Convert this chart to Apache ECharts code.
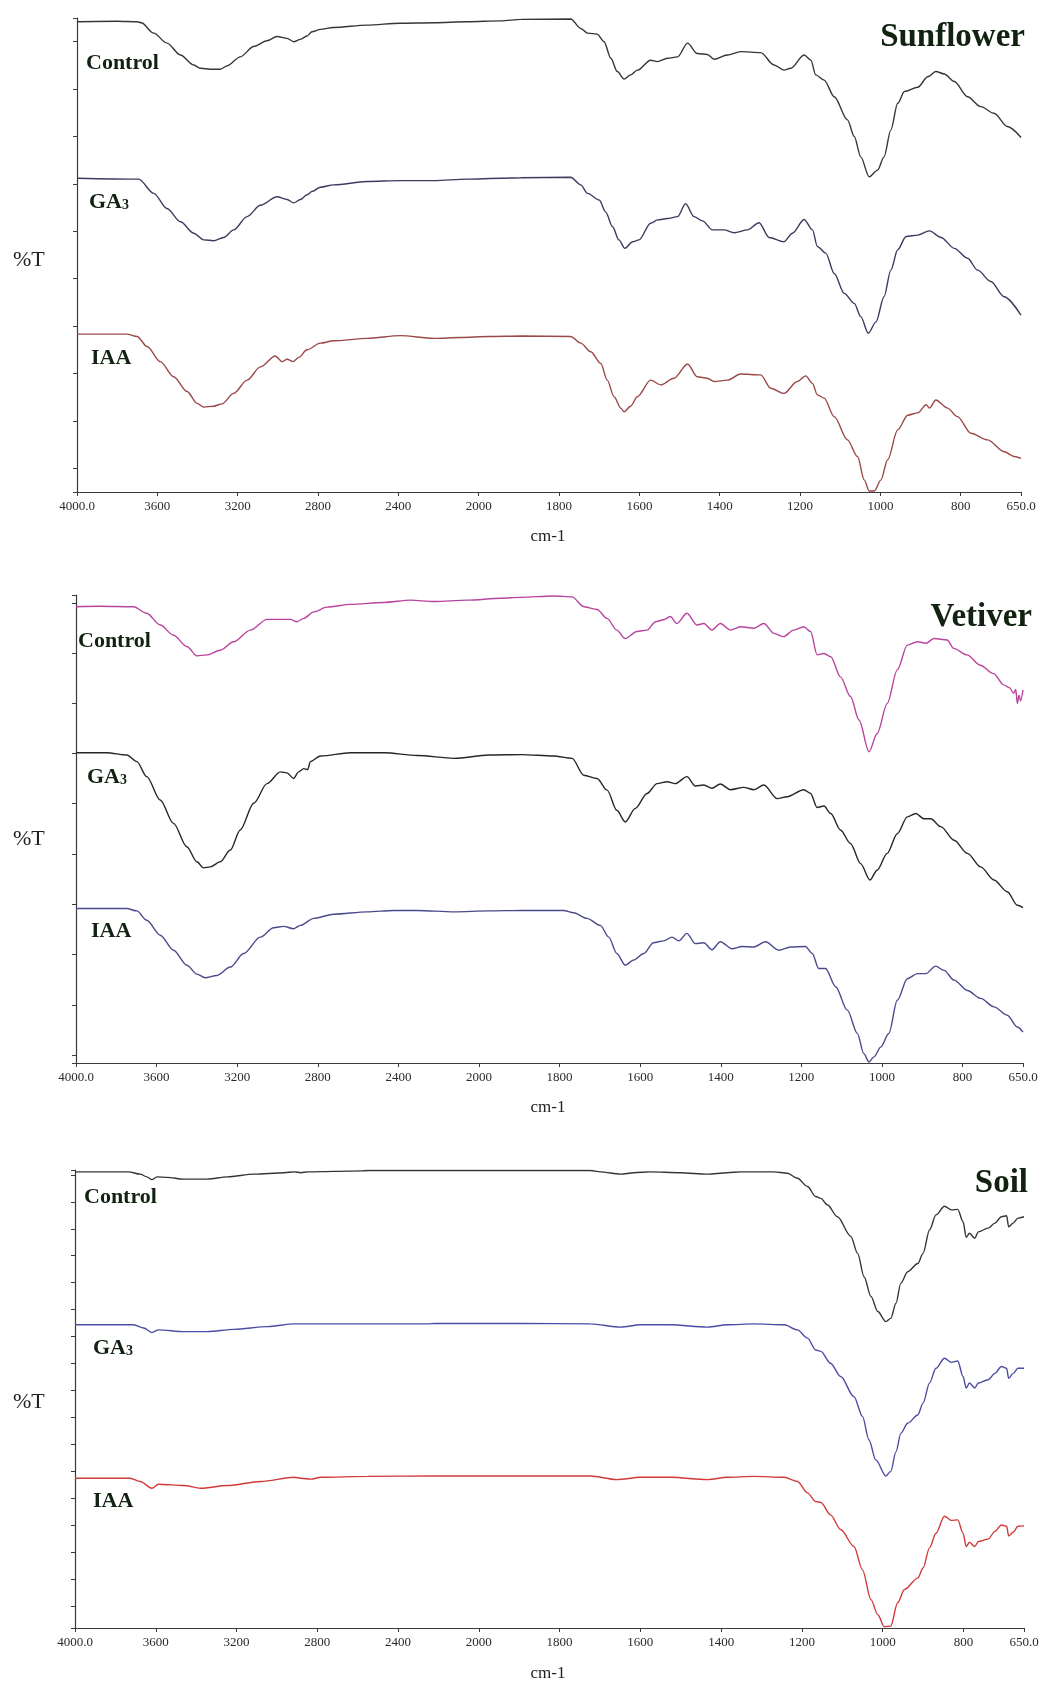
<!DOCTYPE html>
<html>
<head>
<meta charset="utf-8">
<script src="https://cdn.jsdelivr.net/npm/echarts@6/dist/echarts.min.js"></script>
<style>
html,body{margin:0;padding:0;background:#fff;}
#chart{width:1042px;height:1691px;}
</style>
</head>
<body>
<div id="chart"></div>
<script>
// ---------- DATA (wavenumber cm-1, %T in arbitrary axis units 0-100) ----------
const xTickWn = [4000,3600,3200,2800,2400,2000,1800,1600,1400,1200,1000,800,650];
const xTickLabels = ['4000.0','3600','3200','2800','2400','2000','1800','1600','1400','1200','1000','800','650.0'];

const sunflowerControl = [[4000,99.2],[3800,99.3],[3700,99.2],[3680,99.0],[3618,96.8],[3552,94.7],[3485,92.2],[3419,90.1],[3386,89.4],[3336,89.2],[3286,89.2],[3253,89.9],[3187,91.8],[3120,94.0],[3054,95.2],[3004,96.1],[2954,95.7],[2921,95.0],[2888,95.5],[2855,96.2],[2830,97.1],[2788,97.6],[2722,98.0],[2556,98.5],[2390,98.9],[2224,99.0],[2058,99.2],[1945,99.4],[1895,99.7],[1771,99.8],[1746,97.8],[1729,96.8],[1705,96.6],[1688,95.0],[1671,91.5],[1655,88.7],[1638,87.1],[1622,88.0],[1605,89.0],[1572,91.1],[1555,90.8],[1530,91.5],[1505,91.8],[1480,94.7],[1456,92.5],[1431,92.3],[1414,91.3],[1381,92.2],[1348,92.9],[1298,92.7],[1265,90.1],[1240,89.0],[1223,89.4],[1190,92.2],[1173,91.1],[1161,88.0],[1140,86.9],[1115,83.4],[1082,78.5],[1065,75.0],[1049,70.7],[1028,66.5],[1007,67.9],[991,70.7],[974,76.4],[957,82.0],[940,84.5],[907,85.4],[882,87.6],[862,88.7],[841,88.2],[816,86.6],[783,83.4],[750,81.3],[717,79.9],[684,77.1],[650,74.8]];
const sunflowerGA3 = [[4000,66.2],[3693,66.0],[3618,63.0],[3552,59.8],[3485,57.0],[3419,54.6],[3369,53.2],[3320,53.0],[3270,53.7],[3220,55.3],[3153,58.1],[3087,60.5],[3004,62.3],[2954,61.7],[2921,61.0],[2888,61.7],[2855,62.7],[2830,63.4],[2788,64.3],[2722,64.8],[2556,65.5],[2390,65.7],[2224,65.7],[2058,66.0],[1945,66.2],[1895,66.3],[1771,66.4],[1746,64.8],[1729,63.0],[1700,61.6],[1684,59.1],[1667,56.0],[1651,53.2],[1636,51.4],[1617,52.8],[1601,53.2],[1572,56.7],[1555,57.4],[1530,57.7],[1505,58.1],[1485,60.8],[1464,58.1],[1443,57.2],[1418,55.3],[1389,55.3],[1364,54.7],[1331,55.3],[1302,56.8],[1277,53.7],[1240,52.8],[1219,54.6],[1190,57.5],[1169,55.3],[1157,51.8],[1136,50.4],[1115,46.1],[1090,41.9],[1065,39.8],[1049,37.0],[1030,33.5],[1011,35.9],[991,41.2],[974,46.8],[957,51.1],[936,53.9],[907,54.2],[878,55.1],[849,53.7],[816,51.4],[783,49.3],[758,46.8],[725,44.4],[692,41.2],[650,37.3]];
const sunflowerIAA = [[4000,33.3],[3751,33.3],[3701,32.8],[3651,30.7],[3585,27.5],[3519,24.3],[3452,21.2],[3402,18.7],[3369,17.9],[3320,18.1],[3278,18.6],[3220,20.8],[3153,23.6],[3087,26.4],[3013,28.7],[2979,27.5],[2954,28.0],[2924,27.5],[2896,28.4],[2855,30.0],[2788,31.4],[2722,31.9],[2556,32.4],[2390,33.0],[2224,32.4],[2091,32.6],[1975,32.8],[1895,32.9],[1771,32.8],[1746,31.4],[1721,29.6],[1696,27.1],[1680,23.6],[1663,20.1],[1646,17.7],[1638,16.9],[1622,18.1],[1605,20.1],[1572,23.6],[1547,22.6],[1514,24.0],[1480,27.0],[1456,24.3],[1431,24.0],[1414,23.3],[1381,23.6],[1348,24.9],[1298,24.7],[1273,21.9],[1240,20.8],[1207,23.3],[1186,24.5],[1169,22.9],[1157,20.5],[1140,19.8],[1115,15.9],[1082,11.0],[1057,7.5],[1040,2.5],[1028,0.2],[1015,0.2],[999,2.5],[982,6.8],[957,13.1],[932,16.2],[907,16.7],[886,18.4],[878,17.7],[862,19.4],[833,17.7],[808,15.9],[775,12.4],[733,11.0],[692,8.5],[667,7.5],[650,7.1]];

const vetiverControl = [[4000,97.5],[3881,97.6],[3715,97.5],[3649,96.1],[3582,93.6],[3516,91.4],[3450,89.0],[3400,87.0],[3350,87.2],[3284,88.2],[3218,90.0],[3135,92.5],[3052,94.8],[2986,94.8],[2936,94.8],[2903,94.3],[2870,95.0],[2820,96.4],[2754,97.4],[2638,98.0],[2472,98.4],[2340,98.9],[2224,98.6],[2058,98.9],[1945,99.3],[1898,99.5],[1815,99.8],[1769,99.6],[1740,97.5],[1707,96.9],[1682,95.0],[1658,92.5],[1637,90.7],[1608,92.2],[1583,92.5],[1562,94.3],[1542,94.7],[1525,95.4],[1509,93.9],[1484,96.1],[1459,93.6],[1442,93.9],[1422,92.5],[1401,93.9],[1376,92.5],[1351,93.2],[1318,92.9],[1293,93.9],[1268,91.8],[1244,91.1],[1219,92.5],[1194,93.2],[1177,92.2],[1161,87.2],[1144,87.5],[1127,86.8],[1103,82.5],[1078,78.3],[1057,73.3],[1032,66.5],[1012,70.4],[987,76.8],[962,84.0],[937,89.3],[912,90.0],[891,89.7],[871,90.7],[838,90.4],[822,88.6],[789,87.2],[756,85.0],[723,83.2],[698,80.8],[684,80.2],[673,79.0],[668,79.8],[664,76.8],[660,78.6],[656,77.4],[650,79.7]];
const vetiverGA3 = [[4000,66.3],[3848,66.3],[3748,65.8],[3698,64.4],[3649,61.2],[3582,56.2],[3516,51.2],[3450,46.2],[3400,43.0],[3367,41.7],[3334,41.9],[3284,43.0],[3234,45.5],[3185,49.8],[3118,55.5],[3052,59.7],[2986,62.2],[2953,62.0],[2920,60.8],[2895,62.2],[2870,62.9],[2850,62.7],[2837,64.4],[2787,65.6],[2638,66.3],[2472,66.3],[2307,65.7],[2124,65.1],[1975,65.8],[1895,65.9],[1815,65.6],[1769,65.1],[1740,61.5],[1707,60.8],[1682,58.3],[1658,54.0],[1637,51.5],[1612,54.4],[1583,57.6],[1558,59.7],[1533,60.1],[1513,59.7],[1484,61.2],[1463,59.2],[1442,59.4],[1422,58.7],[1401,59.6],[1376,58.4],[1343,58.9],[1318,58.4],[1293,59.4],[1260,56.5],[1235,56.9],[1194,58.4],[1177,57.6],[1161,54.6],[1144,54.9],[1127,53.3],[1103,49.8],[1078,46.9],[1053,42.6],[1030,39.1],[1012,41.2],[987,44.8],[962,49.0],[937,52.6],[916,53.3],[896,52.2],[879,52.2],[854,50.5],[821,47.6],[788,44.8],[755,41.9],[722,39.1],[689,36.6],[664,33.7],[650,33.2]];
const vetiverIAA = [[4000,33.0],[3748,33.0],[3698,32.5],[3649,30.5],[3582,27.3],[3516,24.1],[3450,20.9],[3400,19.0],[3359,18.2],[3301,18.7],[3234,20.5],[3168,23.4],[3085,26.9],[3019,28.9],[2969,29.2],[2922,28.7],[2886,29.4],[2820,30.9],[2721,31.8],[2555,32.3],[2423,32.6],[2307,32.6],[2124,32.3],[1975,32.5],[1895,32.6],[1790,32.6],[1765,32.1],[1732,30.9],[1699,29.4],[1678,26.9],[1658,23.4],[1637,20.9],[1616,22.0],[1591,23.4],[1567,25.7],[1542,26.1],[1521,26.9],[1504,26.1],[1484,27.7],[1463,25.5],[1442,25.7],[1422,24.2],[1401,25.9],[1372,24.4],[1347,24.9],[1318,24.8],[1289,25.9],[1256,24.1],[1227,24.8],[1190,24.9],[1173,23.4],[1157,20.2],[1140,20.2],[1115,16.3],[1086,11.3],[1061,6.3],[1045,2.0],[1032,0.2],[1020,1.3],[1003,3.4],[983,6.3],[962,13.4],[937,18.0],[912,19.1],[891,19.1],[867,20.7],[846,19.8],[821,17.7],[788,15.5],[755,13.8],[722,12.0],[689,10.2],[664,7.7],[650,6.6]];

const soilControl = [[4000,99.6],[3735,99.6],[3677,99.1],[3644,98.5],[3619,97.9],[3594,98.5],[3544,98.4],[3461,98.0],[3345,98.0],[3246,98.5],[3113,99.1],[2964,99.4],[2915,99.6],[2882,99.4],[2848,99.6],[2716,99.7],[2583,99.8],[2550,99.9],[2219,99.9],[1895,99.9],[1724,99.9],[1699,99.6],[1649,99.1],[1616,99.4],[1575,99.6],[1501,99.4],[1434,99.1],[1385,99.4],[1352,99.6],[1269,99.6],[1236,99.3],[1211,98.2],[1186,96.4],[1166,94.2],[1153,93.8],[1137,92.4],[1112,89.8],[1079,85.5],[1062,81.8],[1046,76.7],[1029,72.4],[1012,69.1],[992,66.9],[980,67.6],[967,70.9],[955,75.3],[938,77.8],[913,79.6],[900,81.8],[884,86.9],[868,90.2],[847,92.1],[830,91.3],[814,91.4],[801,88.7],[793,85.3],[785,86.2],[772,85.1],[763,86.5],[739,87.3],[722,88.4],[706,89.8],[693,90.0],[688,87.6],[677,88.4],[665,89.5],[650,89.8]];
const soilGA3 = [[4000,66.2],[3710,66.2],[3660,65.5],[3619,64.5],[3586,65.1],[3461,64.7],[3345,64.7],[3213,65.2],[3047,65.8],[2915,66.4],[2749,66.4],[2550,66.4],[2252,66.4],[2219,66.5],[1895,66.5],[1724,66.4],[1649,65.7],[1600,66.2],[1525,66.2],[1434,65.7],[1385,66.2],[1319,66.4],[1244,66.2],[1211,65.1],[1186,63.3],[1166,60.7],[1153,60.4],[1129,57.8],[1104,54.9],[1071,50.5],[1050,46.2],[1034,41.1],[1017,36.7],[992,33.2],[980,34.2],[967,38.5],[955,42.5],[938,44.7],[913,46.5],[900,49.1],[884,53.5],[868,56.7],[847,58.9],[830,58.0],[814,58.3],[801,54.9],[793,52.4],[785,53.5],[772,52.4],[763,53.5],[739,54.2],[722,55.6],[706,57.1],[693,56.7],[688,54.5],[677,55.6],[665,56.7],[650,56.7]];
const soilIAA = [[4000,32.7],[3727,32.7],[3677,32.0],[3619,30.5],[3586,31.4],[3461,31.1],[3378,30.5],[3246,31.1],[3080,32.0],[2915,32.9],[2882,32.7],[2832,32.5],[2782,32.9],[2550,33.1],[2219,33.2],[1895,33.2],[1724,33.2],[1658,32.4],[1600,32.9],[1525,32.9],[1434,32.4],[1385,32.9],[1319,33.1],[1244,32.9],[1211,32.0],[1186,29.5],[1166,27.6],[1153,27.4],[1129,24.7],[1104,21.5],[1071,17.8],[1050,12.7],[1029,6.2],[1012,2.9],[996,0.3],[980,0.4],[963,5.5],[946,8.4],[913,10.9],[900,13.1],[884,17.5],[868,20.7],[847,24.4],[830,23.5],[814,23.6],[801,20.7],[793,17.8],[785,18.7],[772,17.8],[763,18.9],[739,19.4],[722,21.1],[706,22.5],[693,22.2],[688,20.1],[677,20.9],[665,22.2],[650,22.3]];

const panelTitles = ['Sunflower','Vetiver','Soil'];
const seriesNames = ['Control','GA3','IAA'];
const yTicksP1 = [0,5,15,25,35,45,55,65,75,85,95,100];
const yTicksP2 = [0,1.7,12.4,23.2,33.9,44.6,55.4,66.1,76.8,87.6,98.3,100];
const yTicksP3 = [0,4.8,10.7,16.6,22.5,28.4,34.2,40.1,46.0,51.9,57.7,63.6,69.5,75.4,81.3,87.1,93.0,98.9,100];

// ---------- helpers ----------
// FTIR axis: 4000-2000 at 400 per unit, 2000-650 expanded x2 (200 per unit)
function u(w){ return w >= 2000 ? (4000 - w) / 400 : 5 + (2000 - w) / 200; }
function toXY(arr){ return arr.map(p => [u(p[0]), p[1]]); }
const xTickU = xTickWn.map(u);
function xFmt(val){
  for (let i = 0; i < xTickU.length; i++) if (Math.abs(xTickU[i] - val) < 1e-6) return xTickLabels[i];
  return '';
}

const SERIF = "'Liberation Serif', 'Times New Roman', serif";
const TXT = '#112211';

const grids = [
  {left:77, top:18, width:944, height:474},
  {left:76, top:595, width:947, height:468},
  {left:75, top:1170, width:949, height:458}
];
const yTicks = [yTicksP1, yTicksP2, yTicksP3];
const panelData = [
  [sunflowerControl, sunflowerGA3, sunflowerIAA],
  [vetiverControl, vetiverGA3, vetiverIAA],
  [soilControl, soilGA3, soilIAA]
];
const colors = [
  ['#363636','#3b3b5e','#9a4848'],
  ['#b8449e','#262626','#4a4a8c'],
  ['#353535','#4c4ca4','#d23a3a']
];

const xAxes = [], yAxes = [], series = [];
grids.forEach((g, i) => {
  xAxes.push({
    type:'value', gridIndex:i, min:0, max:11.75,
    axisLine:{show:true, onZero:false, lineStyle:{color:'#3a3a3a', width:1.2}},
    axisTick:{show:true, inside:false, length:4, customValues:xTickU, lineStyle:{color:'#3a3a3a'}},
    axisLabel:{show:true, customValues:xTickU, formatter:xFmt, fontFamily:SERIF, fontSize:13, color:'#2a2a2a', margin:8, showMinLabel:true, showMaxLabel:true},
    splitLine:{show:false}
  });
  yAxes.push({
    type:'value', gridIndex:i, min:0, max:100,
    axisLine:{show:true, onZero:false, lineStyle:{color:'#3a3a3a', width:1.2}},
    axisTick:{show:true, inside:false, length:4, customValues:yTicks[i], lineStyle:{color:'#3a3a3a'}},
    axisLabel:{show:false},
    splitLine:{show:false}
  });
  panelData[i].forEach((d, k) => {
    series.push({
      name: panelTitles[i] + ' ' + seriesNames[k],
      type:'line', xAxisIndex:i, yAxisIndex:i,
      data: toXY(d), showSymbol:false, smooth:0.3, smoothMonotone:'x',
      lineStyle:{color:colors[i][k], width:1.4}, animation:false
    });
  });
});

function txt(text, x, y, opts){
  return Object.assign({type:'text', x:x, y:y, silent:true, style:Object.assign({
    text:text, fill:TXT, font:'bold 22px ' + SERIF, align:'left', verticalAlign:'middle'
  }, opts || {})});
}
function ga3(x, y){
  return {type:'text', x:x, y:y, silent:true, style:{
    text:'{a|GA}{b|3}', align:'left', verticalAlign:'middle',
    rich:{
      a:{fontFamily:SERIF, fontWeight:'bold', fontSize:22, fill:TXT, color:TXT},
      b:{fontFamily:SERIF, fontWeight:'bold', fontSize:14, fill:TXT, color:TXT, verticalAlign:'bottom', padding:[0,0,1,0]}
    }
  }};
}

const labelPos = [
  {title:[1025,37], c:[86,63], g:[89,202], i:[91,358], t:[13,260], cm:[548,537]},
  {title:[1032,617], c:[78,641], g:[87,777], i:[91,931], t:[13,839], cm:[548,1108]},
  {title:[1028,1183], c:[84,1197], g:[93,1348], i:[93,1501], t:[13,1402], cm:[548,1674]}
];
const graphics = [];
labelPos.forEach((p, i) => {
  graphics.push(txt(panelTitles[i], p.title[0], p.title[1], {font:'bold 33px ' + SERIF, align:'right'}));
  graphics.push(txt(seriesNames[0], p.c[0], p.c[1]));
  graphics.push(ga3(p.g[0], p.g[1]));
  graphics.push(txt(seriesNames[2], p.i[0], p.i[1]));
  graphics.push(txt('%T', p.t[0], p.t[1], {font:'22px ' + SERIF, fill:'#222'}));
  graphics.push(txt('cm-1', p.cm[0], p.cm[1], {font:'17px ' + SERIF, fill:'#222', align:'center'}));
});

const chart = echarts.init(document.getElementById('chart'), null, {renderer:'canvas'});
chart.setOption({
  backgroundColor:'#ffffff',
  animation:false,
  grid: grids.map(g => Object.assign({containLabel:false}, g)),
  xAxis: xAxes,
  yAxis: yAxes,
  series: series,
  graphic: graphics
});
</script>
</body>
</html>
